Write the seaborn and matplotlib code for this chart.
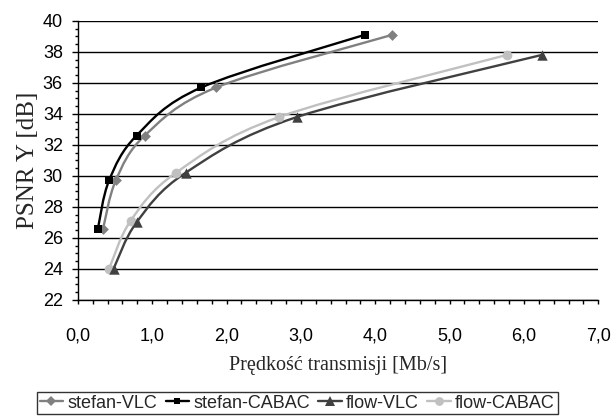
import numpy as np
import pandas as pd
import matplotlib
matplotlib.use("Agg")
import matplotlib.pyplot as plt
import seaborn as sns
from matplotlib.path import Path
from matplotlib.patches import PathPatch
from matplotlib.lines import Line2D
from matplotlib.ticker import MultipleLocator, FuncFormatter

# ---- data ----
series_names = ["stefan-VLC", "stefan-CABAC", "flow-VLC", "flow-CABAC"]
stefan_vlc_x = [0.34, 0.51, 0.90, 1.86, 4.23]
stefan_vlc_y = [26.6, 29.7, 32.6, 35.7, 39.1]
stefan_cabac_x = [0.27, 0.42, 0.79, 1.66, 3.86]
stefan_cabac_y = [26.6, 29.7, 32.6, 35.7, 39.1]
flow_vlc_x = [0.48, 0.79, 1.45, 2.95, 6.24]
flow_vlc_y = [24.0, 27.0, 30.2, 33.8, 37.8]
flow_cabac_x = [0.42, 0.71, 1.32, 2.71, 5.77]
flow_cabac_y = [24.0, 27.1, 30.2, 33.8, 37.8]
x_ticks = [0, 1, 2, 3, 4, 5, 6, 7]
y_ticks = [22, 24, 26, 28, 30, 32, 34, 36, 38, 40]

xs = [stefan_vlc_x, stefan_cabac_x, flow_vlc_x, flow_cabac_x]
ys = [stefan_vlc_y, stefan_cabac_y, flow_vlc_y, flow_cabac_y]

rows = []
for n, xx, yy in zip(series_names, xs, ys):
    for a, b in zip(xx, yy):
        rows.append({"series": n, "rate": a, "psnr": b})
df = pd.DataFrame(rows)

colors = {"stefan-VLC": "#808080", "stefan-CABAC": "#000000",
          "flow-VLC": "#404040", "flow-CABAC": "#c0c0c0"}
markers = {"stefan-VLC": "D", "stefan-CABAC": "s",
           "flow-VLC": "^", "flow-CABAC": "o"}
msizes = {"stefan-VLC": 5.5, "stefan-CABAC": 5.5, "flow-VLC": 7.5, "flow-CABAC": 7}

sns.set_theme(style="white")
plt.rcParams["font.family"] = ["Liberation Sans", "DejaVu Sans"]

fig = plt.figure(figsize=(6.13, 4.17), dpi=100)
ax = fig.add_axes([0.127, 0.281, 0.849, 0.669])


def smooth_path(x, y):
    """Excel-like smoothed line as cubic Bezier segments through the points."""
    p = np.column_stack([x, y]).astype(float)
    n = len(p)
    verts = [p[0]]
    codes = [Path.MOVETO]
    for i in range(n - 1):
        p0 = p[i - 1] if i > 0 else p[i]
        p1 = p[i]
        p2 = p[i + 1]
        p3 = p[i + 2] if i + 2 < n else p[i + 1]
        c1 = p1 + (p2 - p0) / 6.0
        c2 = p2 - (p3 - p1) / 6.0
        verts += [c1, c2, p2]
        codes += [Path.CURVE4] * 3
    return Path(verts, codes)


order = ["flow-CABAC", "flow-VLC", "stefan-VLC", "stefan-CABAC"]
for n in order:
    i = series_names.index(n)
    patch = PathPatch(smooth_path(xs[i], ys[i]), facecolor="none",
                      edgecolor=colors[n], lw=1.7, zorder=3)
    ax.add_patch(patch)
    sub = df[df["series"] == n]
    sns.scatterplot(data=sub, x="rate", y="psnr", ax=ax, color=colors[n],
                    marker=markers[n], s=msizes[n] ** 2, edgecolor=colors[n],
                    linewidth=0, zorder=4, legend=False)

ax.set_xlim(0, 7)
ax.set_ylim(22, 40)
ax.set_xticks(x_ticks)
ax.set_yticks(y_ticks)
ax.xaxis.set_minor_locator(MultipleLocator(0.2))
ax.yaxis.set_minor_locator(MultipleLocator(0.5))
ax.xaxis.set_major_formatter(FuncFormatter(lambda v, p: f"{v:.1f}".replace(".", ",")))
ax.yaxis.set_major_formatter(FuncFormatter(lambda v, p: f"{int(v)}"))

ax.grid(axis="y", color="#000000", lw=1.0)
ax.grid(axis="x", visible=False)
ax.set_axisbelow(True)
for s in ["top", "right"]:
    ax.spines[s].set_visible(False)
for s in ["left", "bottom"]:
    ax.spines[s].set_color("#000000")
    ax.spines[s].set_linewidth(1.0)

ax.tick_params(axis="both", which="both", direction="out", width=1,
               color="#000000", labelsize=13, labelcolor="#000000")
ax.tick_params(axis="y", which="major", length=4.3, pad=6.5, left=True)
ax.tick_params(axis="y", which="minor", length=2.2, left=True)
ax.tick_params(axis="x", which="major", length=3, pad=17, bottom=True)
ax.tick_params(axis="x", which="minor", length=3, bottom=True)

ax.set_xlabel("Prędkość transmisji [Mb/s]", fontsize=14.5,
              family=["Liberation Serif", "DejaVu Serif"], labelpad=8)
ax.set_ylabel("PSNR Y [dB]", fontsize=18,
              family=["Liberation Serif", "DejaVu Serif"], labelpad=3)

handles = [Line2D([0], [0], color=colors[n], lw=1.7, marker=markers[n],
                  markersize=msizes[n] * 0.9, markeredgewidth=0)
           for n in series_names]
leg = fig.legend(handles, series_names, loc="lower center",
                 bbox_to_anchor=(0.485, 0.0), ncol=4, fontsize=13,
                 frameon=True, fancybox=False, handlelength=1.3,
                 handletextpad=0.25, columnspacing=0.45, borderpad=0.15,
                 borderaxespad=0.15)
leg.get_frame().set_edgecolor("#000000")
leg.get_frame().set_linewidth(1.0)

fig.savefig("out.png", dpi=100)
